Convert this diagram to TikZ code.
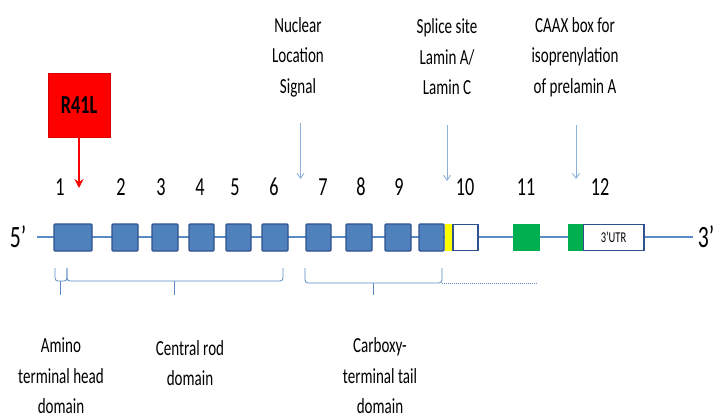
\documentclass[tikz,border=0pt]{standalone}
\usepackage{fontspec}
\setmainfont{Carlito}[FakeStretch=0.7]
\usetikzlibrary{arrows.meta}
\definecolor{exblue}{HTML}{4F81BD}
\definecolor{exedge}{HTML}{2F528F}
\definecolor{lineblue}{HTML}{5B8BC4}
\definecolor{arrblue}{HTML}{8DB0D8}
\definecolor{exgreen}{HTML}{00B050}
\definecolor{exyellow}{HTML}{FFFF00}
\begin{document}
\begin{tikzpicture}[x=1pt,y=-1pt,
  exon/.style={draw=exedge,line width=1.1pt,fill=exblue,minimum height=27pt,inner sep=0pt,rounded corners=1pt},
  wexon/.style={draw=exedge,line width=1.5pt,fill=white,minimum height=26pt,inner sep=0pt},
  gexon/.style={fill=exgreen,minimum height=27pt,inner sep=0pt},
  num/.style={font=\fontsize{26}{28}\selectfont,inner sep=0pt},
  lbl/.style={font=\fontsize{21.5}{30.5}\selectfont,align=center,inner sep=0pt},
  end/.style={font=\fontsize{31}{32}\selectfont,inner sep=0pt},
  thin/.style={draw=arrblue,line width=0.9pt,-{Straight Barb[length=5pt,width=7pt]}},
  brace/.style={draw=lineblue,line width=0.8pt,rounded corners=3pt}]
\useasboundingbox (0,0) rectangle (716,418);
% backbone
\node[end] (five) at (18,237) {5’};
\node[end] (three) at (706,237) {3’};
\coordinate (bbL) at (37,237);
\coordinate (bbR) at (693,237);
\draw[lineblue,line width=1.1pt] (bbL) -- (bbR);
% exons
\node[exon,minimum width=38pt] (e1) at (73,237.5) {};
\node[exon,minimum width=26pt] (e2) at (125,237.5) {};
\node[exon,minimum width=26pt] (e3) at (165,237.5) {};
\node[exon,minimum width=25pt] (e4) at (201.5,237.5) {};
\node[exon,minimum width=25pt] (e5) at (238.5,237.5) {};
\node[exon,minimum width=26pt] (e6) at (275,237.5) {};
\node[exon,minimum width=25pt] (e7) at (318.5,237.5) {};
\node[exon,minimum width=26pt] (e8) at (359,237.5) {};
\node[exon,minimum width=26pt] (e9) at (398,237.5) {};
\node[exon,minimum width=25pt] (e10a) at (431.5,237.5) {};
\node[fill=exyellow,minimum width=8pt,minimum height=27pt,inner sep=0pt] (e10y) at (448.5,237.5) {};
\node[wexon,minimum width=25pt] (e10b) at (465.5,237.5) {};
\node[gexon,minimum width=27pt] (e11) at (526.5,237.5) {};
\node[wexon,minimum width=61pt,font=\fontsize{15}{16}\selectfont] (e12b) at (613.5,237.5) {3’UTR};
\node[gexon,minimum width=15pt] (e12a) at (575.5,237.5) {};
% exon numbers
\node[num] (n1) at (60,187) {1};
\node[num] (n2) at (121,187) {2};
\node[num] (n3) at (161,187) {3};
\node[num] (n4) at (200,187) {4};
\node[num] (n5) at (235,187) {5};
\node[num] (n6) at (274,187) {6};
\node[num] (n7) at (323,187) {7};
\node[num] (n8) at (361,187) {8};
\node[num] (n9) at (399,187) {9};
\node[num] (n10) at (465,187) {10};
\node[num] (n11) at (526,187) {11};
\node[num] (n12) at (600,187) {12};
% mutation
\node[fill=red,draw=red!85!black,minimum width=62pt,minimum height=64pt,inner sep=0pt,font=\bfseries\fontsize{26}{28}\selectfont] (mut) at (79,105) {R41L};
\coordinate (mutTip) at (79,188);
\draw[red,line width=2pt,-{Stealth[length=9pt,width=9pt]}] (mut.south) -- (mutTip);
% top labels
\node[lbl] (nls) at (298,57) {Nuclear\\Location\\Signal};
\node[lbl] (spl) at (447,57) {Splice site\\Lamin A/\\Lamin C};
\node[lbl] (caax) at (575,57) {CAAX box for\\isoprenylation\\of prelamin A};
\coordinate (nlsS) at (300.5,123);
\coordinate (nlsT) at (300.5,179);
\coordinate (splS) at (447,125);
\coordinate (splT) at (447,181);
\coordinate (caaxS) at (576,125);
\coordinate (caaxT) at (576,179);
\draw[thin] (nlsS) -- (nlsT);
\draw[thin] (splS) -- (splT);
\draw[thin] (caaxS) -- (caaxT);
% braces
\draw[brace] (55,268) |- (67,281) -- (67,268);
\draw[lineblue,line width=0.8pt] (60,281) -- (60,295);
\draw[brace] (67,268) |- (283,281) -- (283,268);
\draw[lineblue,line width=0.8pt] (174,281) -- (174,295);
\draw[brace] (305,268) |- (442,283) -- (442,268);
\draw[lineblue,line width=0.8pt] (373,283) -- (373,295);
\draw[lineblue,line width=1pt,densely dotted] (442,283) -- (538,283);
% bottom labels
\node[lbl] (amino) at (61,376) {Amino\\terminal head\\domain};
\node[lbl] (rod) at (190,363) {Central rod\\domain};
\node[lbl] (carb) at (380,376) {Carboxy-\\terminal tail\\domain};
\end{tikzpicture}
\end{document}
